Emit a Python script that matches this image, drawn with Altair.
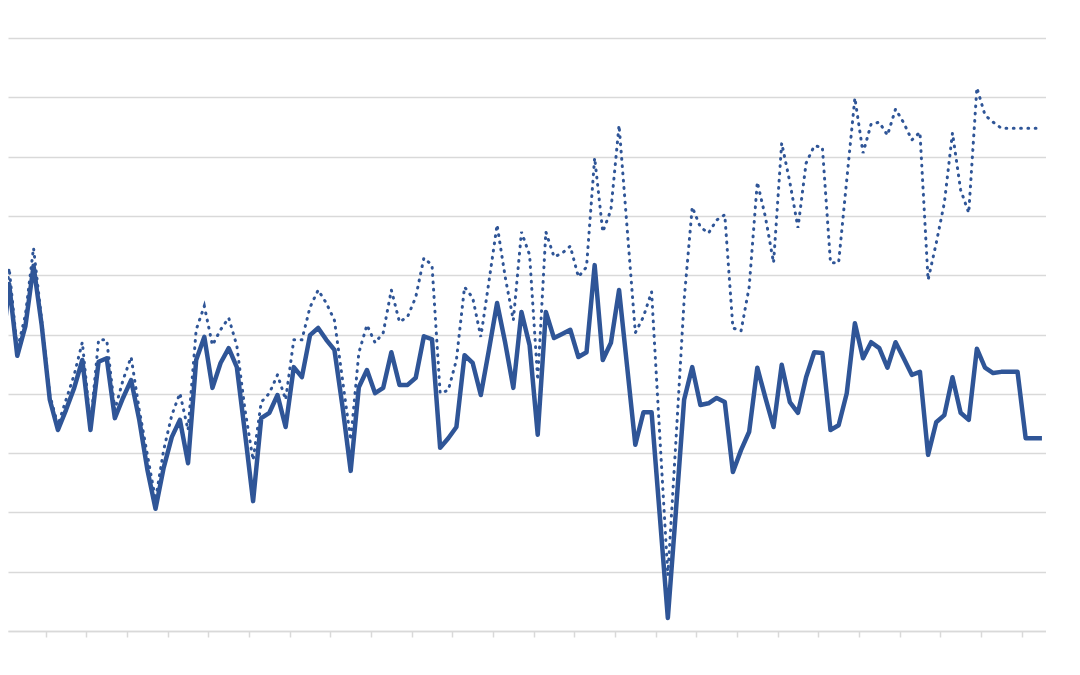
import altair as alt
import pandas as pd

# Series values (gridline units 0..10)
solid_vals = [
    4.54, 5.85, 4.64, 5.14, 6.16, 5.16, 3.90, 3.39, 3.73, 4.10,
    4.57, 3.39, 4.54, 4.60, 3.59, 3.93, 4.23, 3.56, 2.72, 2.06,
    2.75, 3.27, 3.56, 2.83, 4.57, 4.96, 4.10, 4.52, 4.77, 4.45,
    3.34, 2.19, 3.59, 3.68, 3.98, 3.44, 4.45, 4.28, 4.99, 5.11,
    4.91, 4.74, 3.78, 2.70, 4.11, 4.40, 4.01, 4.10, 4.70, 4.15,
    4.15, 4.27, 4.97, 4.92, 3.09, 3.25, 3.44, 4.65, 4.52, 3.98,
    4.74, 5.53, 4.86, 4.10, 5.38, 4.82, 3.31, 5.38, 4.94, 5.01,
    5.08, 4.62, 4.70, 6.17, 4.57, 4.86, 5.75, 4.45, 3.14, 3.69,
    3.69, 1.96, 0.22, 2.04, 3.90, 4.45, 3.81, 3.84, 3.93, 3.86,
    2.68, 3.05, 3.36, 4.44, 3.93, 3.44, 4.49, 3.86, 3.68, 4.28,
    4.70, 4.69, 3.39, 3.47, 4.01, 5.19, 4.60, 4.87, 4.77, 4.44,
    4.87, 4.60, 4.32, 4.37, 2.97, 3.52, 3.64, 4.28, 3.68, 3.56,
    4.76, 4.44, 4.35, 4.37, 4.37, 4.37, 3.25, 3.25, 3.25,
]

dotted_vals = [
    4.60, 6.12, 4.74, 5.33, 6.46, 5.24, 3.98, 3.47, 3.90, 4.32,
    4.87, 3.47, 4.91, 4.91, 3.73, 4.23, 4.62, 3.73, 2.97, 2.21,
    3.05, 3.64, 4.01, 3.39, 5.08, 5.48, 4.82, 5.08, 5.28, 4.81,
    3.73, 2.88, 3.86, 4.01, 4.32, 3.90, 4.91, 4.91, 5.46, 5.75,
    5.53, 5.24, 4.23, 3.22, 4.69, 5.16, 4.86, 5.03, 5.75, 5.21,
    5.30, 5.63, 6.29, 6.17, 4.01, 4.06, 4.57, 5.80, 5.62, 4.96,
    5.89, 6.85, 5.97, 5.24, 6.73, 6.34, 4.23, 6.73, 6.31, 6.37,
    6.49, 5.97, 6.14, 7.98, 6.73, 7.10, 8.53, 6.78, 5.03, 5.30,
    5.72, 3.31, 0.94, 3.22, 5.58, 7.15, 6.81, 6.71, 6.93, 7.02,
    5.11, 5.06, 5.80, 7.57, 6.98, 6.21, 8.23, 7.57, 6.80, 7.89,
    8.18, 8.16, 6.21, 6.21, 7.61, 8.99, 8.06, 8.55, 8.58, 8.36,
    8.80, 8.57, 8.28, 8.41, 5.92, 6.54, 7.22, 8.40, 7.44, 7.05,
    9.16, 8.70, 8.58, 8.48, 8.48, 8.48, 8.48, 8.48, 8.48,
]

periods = list(range(len(solid_vals)))
tick_positions = [0.5 + 5 * i for i in range(26)]
grid_values = list(range(0, 11))

df_solid = pd.DataFrame({"period": periods, "value": solid_vals})
df_dotted = pd.DataFrame({"period": periods, "value": dotted_vals})

BLUE = "#2F5597"
GRID = "#D9D9D9"

x_enc = alt.X(
    "period:Q",
    scale=alt.Scale(domain=[0.86, 128.5], nice=False, zero=False),
    axis=alt.Axis(
        values=tick_positions, labels=False, grid=False, title=None,
        domainColor=GRID, domainWidth=1.5, tickColor=GRID, tickWidth=1.5, tickSize=6,
    ),
)
y_enc = alt.Y(
    "value:Q",
    scale=alt.Scale(domain=[0, 10], nice=False),
    axis=alt.Axis(
        values=grid_values, labels=False, ticks=False, domain=False, title=None,
        grid=True, gridColor=GRID, gridWidth=1.5,
    ),
)

solid = alt.Chart(df_solid).mark_line(
    color=BLUE, strokeWidth=4.5, clip=True, strokeJoin="round"
).encode(x=x_enc, y=y_enc)

dotted = alt.Chart(df_dotted).mark_line(
    color=BLUE, strokeWidth=3, strokeDash=[0.8, 6.5], strokeCap="round", clip=True
).encode(x="period:Q", y="value:Q")

chart = (
    alt.layer(solid, dotted)
    .properties(
        width=1038,
        height=593,
        padding={"left": 0, "top": 30, "right": 0, "bottom": 15},
        autosize=alt.AutoSizeParams(type="none"),
        background="white",
    )
    .configure_view(stroke=None)
)

chart.save("out.html", embed_options={"renderer": "svg", "actions": False})
